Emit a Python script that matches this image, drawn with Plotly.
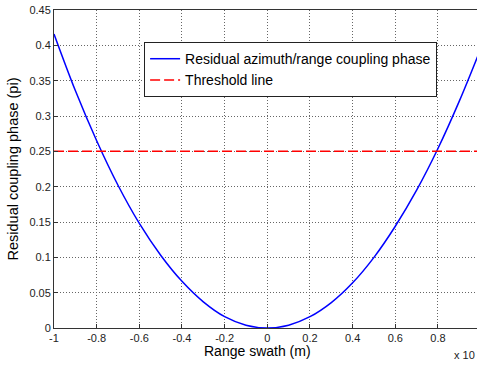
import plotly.graph_objects as go

x_vals = [-1.0, -0.9, -0.8, -0.7, -0.6, -0.5, -0.4, -0.3, -0.2, -0.1, 0.0,
          0.1, 0.2, 0.3, 0.4, 0.5, 0.6, 0.7, 0.8, 0.9, 1.0]
phase = [0.416, 0.336, 0.265, 0.202, 0.148, 0.103, 0.066, 0.037, 0.016, 0.004, 0.0,
         0.004, 0.016, 0.036, 0.064, 0.100, 0.144, 0.195, 0.254, 0.321, 0.395]
threshold = 0.25
x_ticks = [-1, -0.8, -0.6, -0.4, -0.2, 0, 0.2, 0.4, 0.6, 0.8]
y_ticks = [0, 0.05, 0.1, 0.15, 0.2, 0.25, 0.3, 0.35, 0.4, 0.45]
y_tick_text = ["0", "0.05", "0.1", "0.15", "0.2", "0.25", "0.3", "0.35", "0.4", "0.45"]

fig = go.Figure()
fig.add_trace(go.Scatter(x=x_vals, y=phase, mode="lines",
                         line=dict(color="#0000ff", width=1.5, shape="spline"),
                         name="Residual azimuth/range coupling phase"))
fig.add_trace(go.Scatter(x=[-1, 1], y=[threshold, threshold], mode="lines",
                         line=dict(color="#ff0000", width=1.5, dash="10px,4px"),
                         name="Threshold line"))

font = "Liberation Sans, Arial, sans-serif"
grid = dict(showgrid=True, gridcolor="#666", griddash="1px,2px", gridwidth=1, zeroline=False)
fig.update_layout(
    width=477, height=367,
    margin=dict(l=54, r=0, t=10, b=39),
    paper_bgcolor="white", plot_bgcolor="white",
    font=dict(family=font, size=11, color="#222"),
    showlegend=True,
    legend=dict(x=0.213, y=0.899, xanchor="left", yanchor="top", bgcolor="white",
                bordercolor="#222", borderwidth=1, font=dict(size=14, color="black"),
                tracegroupgap=0, itemwidth=30),
    xaxis=dict(range=[-1, 0.983], tickvals=x_ticks, ticktext=[str(v) for v in x_ticks],
               ticks="inside", ticklen=4, tickcolor="#333", showline=True, linecolor="#333",
               mirror=True, **grid),
    yaxis=dict(range=[0, 0.45], tickvals=y_ticks, ticktext=y_tick_text,
               ticks="inside", ticklen=4, tickcolor="#333", showline=True, linecolor="#333",
               **grid,
               title=dict(text="Residual coupling phase (pi)", font=dict(size=14.5, color="black"),
                          standoff=7)),
    annotations=[
        dict(text="Range swath (m)", x=0.48, y=-0.072, xref="paper", yref="paper",
             xanchor="center", yanchor="middle", showarrow=False,
             font=dict(size=14, color="black")),
        dict(text="x 10", x=1.0, y=-0.085, xref="paper", yref="paper",
             xanchor="right", yanchor="middle", showarrow=False,
             font=dict(size=11, color="#222")),
    ],
)
fig.write_html("out.html")
